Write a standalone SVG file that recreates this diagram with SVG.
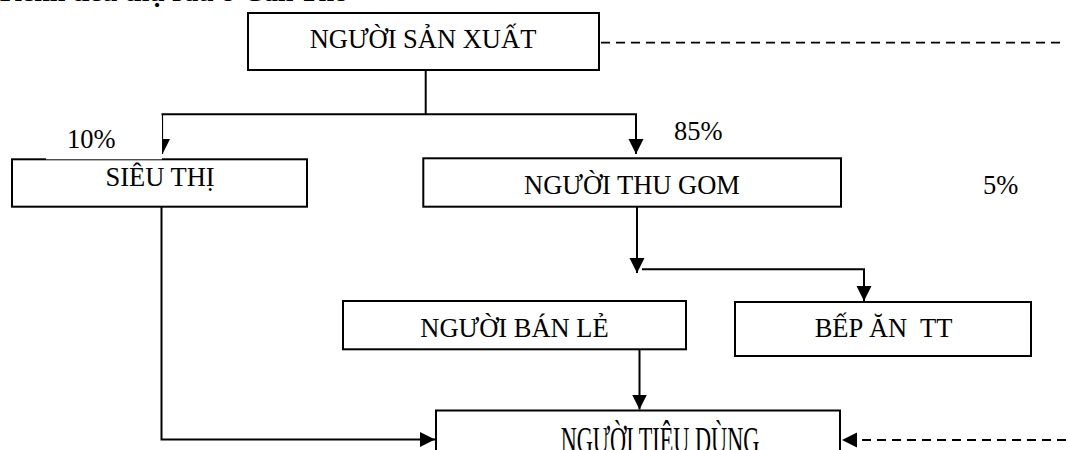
<svg xmlns="http://www.w3.org/2000/svg" width="1066" height="450" viewBox="0 0 1066 450">
  <style>
    .box { fill: #ffffff; stroke: #000000; stroke-width: 2; }
    .lbl { font-family: "Liberation Serif", "Times New Roman", serif; font-size: 26.5px; fill: #000000; text-anchor: middle; white-space: pre; }
    .pct { font-family: "Liberation Serif", "Times New Roman", serif; font-size: 26.5px; fill: #000000; }
    .title { font-family: "Liberation Serif", "Times New Roman", serif; font-size: 28px; font-weight: bold; fill: #000000; }
    .ln { fill: none; stroke: #000000; stroke-width: 2; }
    .thin { fill: none; stroke: #000000; stroke-width: 1.2; }
    .dash { fill: none; stroke: #000000; stroke-width: 1.8; stroke-dasharray: 9 6; }
  </style>
  <defs>
    <marker id="arrow" markerUnits="userSpaceOnUse" markerWidth="16" markerHeight="16" refX="15" refY="7.5" orient="auto">
      <path d="M0,0 L15,7.5 L0,15 Z" fill="#000000"/>
    </marker>
  </defs>

  <rect width="1066" height="450" fill="#ffffff"/>

  <!-- heading, mostly above the page edge -->
  <text class="title" x="0" y="0.5">Kênh tiêu thụ rau ở Cần Thơ</text>

  <g id="connectors">
    <line class="ln" x1="425.7" y1="70" x2="425.7" y2="114.3"/>
    <line class="ln" x1="161.5" y1="114.3" x2="637" y2="114.3"/>
    <line class="ln" x1="636" y1="114.3" x2="636" y2="154" marker-end="url(#arrow)"/>
    <line class="thin" x1="162.5" y1="114.3" x2="162.5" y2="154" marker-end="url(#arrow)"/>
    <line class="ln" x1="637" y1="206.7" x2="637" y2="273" marker-end="url(#arrow)"/>
    <line class="ln" x1="642" y1="269.3" x2="865" y2="269.3"/>
    <line class="ln" x1="864" y1="269.3" x2="864" y2="301" marker-end="url(#arrow)"/>
    <line class="ln" x1="639.5" y1="349" x2="639.5" y2="409.5" marker-end="url(#arrow)"/>
    <polyline class="ln" points="161.5,206.7 161.5,439.5 435,439.5" marker-end="url(#arrow)"/>
    <line class="dash" x1="601" y1="42.7" x2="1066" y2="42.7"/>
    <line class="dash" x1="1066" y1="440" x2="842" y2="440" marker-end="url(#arrow)"/>
  </g>

  <g id="nguoi-san-xuat">
    <rect class="box" x="248" y="13" width="351" height="57"/>
    <text class="lbl" x="423" y="48.3">NGƯỜI SẢN XUẤT</text>
  </g>

  <g id="sieu-thi">
    <rect class="box" x="12" y="159.3" width="295" height="47.4"/>
    <text class="lbl" x="160" y="186">SIÊU THỊ</text>
  </g>

  <g id="nhan-10">
    <rect x="46" y="120" width="116" height="39.3" fill="#ffffff"/>
    <text class="pct" x="67" y="148.3">10%</text>
  </g>

  <g id="nhan-85">
    <text class="pct" x="674" y="140">85%</text>
  </g>

  <g id="nhan-5">
    <text class="pct" x="983" y="194">5%</text>
  </g>

  <g id="nguoi-thu-gom">
    <rect class="box" x="423.3" y="158.3" width="417.7" height="48.4"/>
    <text class="lbl" x="632" y="194.3">NGƯỜI THU GOM</text>
  </g>

  <g id="nguoi-ban-le">
    <rect class="box" x="343" y="301" width="343" height="48.3"/>
    <text class="lbl" x="514.5" y="337">NGƯỜI BÁN LẺ</text>
  </g>

  <g id="bep-an-tt">
    <rect class="box" x="735" y="302" width="296" height="54"/>
    <text class="lbl" x="883.5" y="337">BẾP ĂN  TT</text>
  </g>

  <g id="nguoi-tieu-dung">
    <rect class="box" x="436" y="410.5" width="404" height="60"/>
    <text class="lbl" transform="translate(660,453) scale(0.84,1.42)" x="0" y="0">NGƯỜI TIÊU DÙNG</text>
  </g>
</svg>
